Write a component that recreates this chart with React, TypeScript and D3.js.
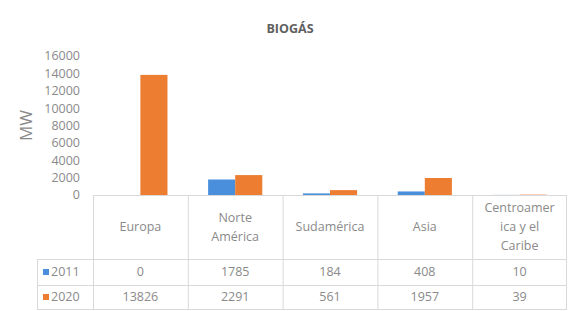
import * as React from 'react';
import * as d3 from 'd3';

const categories = ['Europa', 'Norte América', 'Sudamérica', 'Asia', 'Centroamerica y el Caribe'];
const categoryLines = [['Europa'], ['Norte', 'América'], ['Sudamérica'], ['Asia'], ['Centroamer', 'ica y el', 'Caribe']];
const seriesNames = ['2011', '2020'];
const values2011 = [0, 1785, 184, 408, 10];
const values2020 = [13826, 2291, 561, 1957, 39];
const yTicks = [0, 2000, 4000, 6000, 8000, 10000, 12000, 14000, 16000];
const colors = ['#4a8fdc', '#ed7d31'];

const width = 569;
const height = 311;
const plot = { left: 93, right: 567, top: 56, bottom: 195 };
const headerBottom = 259;
const rowBottoms = [285, 309];
const legendLeft = 37;
const font = '"Open Sans", "Noto Sans", sans-serif';
const textColor = '#8a8a8a';
const lineColor = '#d9d9d9';

export default function App() {
  const x = d3.scaleBand<string>().domain(categories).range([plot.left, plot.right]);
  const inner = d3.scaleBand<string>().domain(seriesNames).range([0, x.bandwidth()]).paddingInner(0).paddingOuter(0.75);
  const y = d3.scaleLinear().domain([0, 16000]).range([plot.bottom, plot.top]);
  const series = [values2011, values2020];

  const rowTops = [headerBottom, rowBottoms[0]];

  return (
    <svg width={width} height={height} style={{ position: 'absolute', left: 0, top: 0, background: '#fff' }} fontFamily={font}>
      <text x={290} y={33} textAnchor="middle" fontSize={12.5} fontWeight="bold" fill="#606060">BIOGÁS</text>
      <text transform={`translate(32,${(plot.top + plot.bottom) / 2}) rotate(-90)`} textAnchor="middle" fontSize={17} fill={textColor}>MW</text>
      {yTicks.map(t => (
        <text key={t} x={80} y={y(t)} dy="0.35em" textAnchor="end" fontSize={12.5} fill={textColor}>{t}</text>
      ))}
      {series.map((vals, si) => (
        <g key={si} fill={colors[si]}>
          {categories.map((c, ci) => (
            <rect key={c} x={x(c)! + inner(seriesNames[si])!} width={inner.bandwidth()} y={y(vals[ci])} height={y(0) - y(vals[ci])} />
          ))}
        </g>
      ))}
      <g stroke={lineColor} strokeWidth={1} fill="none">
        <line x1={plot.left} x2={plot.right} y1={plot.bottom + 0.5} y2={plot.bottom + 0.5} />
        <line x1={legendLeft} x2={plot.right} y1={headerBottom + 0.5} y2={headerBottom + 0.5} />
        {rowBottoms.map(r => (
          <line key={r} x1={legendLeft} x2={plot.right} y1={r + 0.5} y2={r + 0.5} />
        ))}
        <line x1={legendLeft + 0.5} x2={legendLeft + 0.5} y1={headerBottom} y2={rowBottoms[1]} />
        {categories.map(c => (
          <line key={c} x1={x(c)! + 0.5} x2={x(c)! + 0.5} y1={plot.bottom} y2={rowBottoms[1]} />
        ))}
        <line x1={plot.right - 0.5} x2={plot.right - 0.5} y1={plot.bottom} y2={rowBottoms[1]} />
      </g>
      {categories.map((c, ci) => {
        const lines = categoryLines[ci];
        const lh = 19;
        const cy = (plot.bottom + headerBottom) / 2;
        return (
          <text key={c} textAnchor="middle" fontSize={12.5} fill={textColor}>
            {lines.map((l, li) => (
              <tspan key={li} x={x(c)! + x.bandwidth() / 2} y={cy + (li - (lines.length - 1) / 2) * lh} dy="0.35em">{l}</tspan>
            ))}
          </text>
        );
      })}
      {series.map((vals, si) => {
        const cy = (rowTops[si] + rowBottoms[si]) / 2;
        return (
          <g key={si}>
            <rect x={43} y={cy - 3} width={6} height={6} fill={colors[si]} />
            <text x={51} y={cy} dy="0.35em" fontSize={12.5} fill={textColor}>{seriesNames[si]}</text>
            {categories.map((c, ci) => (
              <text key={c} x={x(c)! + x.bandwidth() / 2} y={cy} dy="0.35em" textAnchor="middle" fontSize={12.5} fill={textColor}>{vals[ci]}</text>
            ))}
          </g>
        );
      })}
    </svg>
  );
}
